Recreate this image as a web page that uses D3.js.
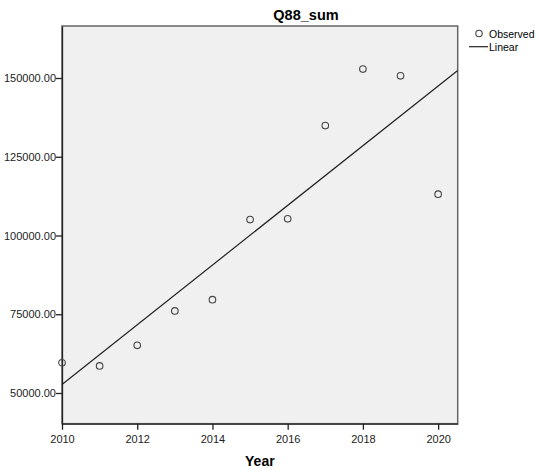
<!DOCTYPE html>
<html lang="en">
<head>
    <meta charset="UTF-8">
    <title>Q88_sum</title>
    <script src="https://d3js.org/d3.v7.min.js"></script>
    <style>
        body { margin: 0; background: #fff; }
        svg { font-family: "Liberation Sans", Arial, sans-serif; }
        .tick text { font-size: 11px; fill: #222; }
    </style>
</head>
<body>
    <svg width="539" height="471"></svg>
    <script>
        // Observed values per year
        const years = [2010, 2011, 2012, 2013, 2014, 2015, 2016, 2017, 2018, 2019, 2020];
        const q88Sum = [59600, 58600, 65150, 76050, 79640, 105060, 105280, 134900, 152840, 150700, 113130];
        const yTicks = [50000, 75000, 100000, 125000, 150000];
        const xTicks = [2010, 2012, 2014, 2016, 2018, 2020];

        const margin = { top: 26, left: 62 };
        const width = 395.7;
        const height = 397.7;

        const svg = d3.select('svg');
        const g = svg.append('g')
            .attr('transform', `translate(${margin.left},${margin.top})`);

        const x = d3.scaleLinear().domain([2010, 2020.52]).range([0, width]);
        const y = d3.scaleLinear().domain([40253, 166510]).range([height, 0]);

        // plot background + frame
        g.append('rect')
            .attr('width', width)
            .attr('height', height)
            .attr('fill', '#f0f0f0')
            .attr('stroke', '#666')
            .attr('stroke-width', 1.5);

        // axes
        const xAxis = g.append('g')
            .attr('transform', `translate(0,${height})`)
            .call(d3.axisBottom(x).tickValues(xTicks).tickFormat(d3.format('d')).tickSize(6).tickSizeOuter(0));
        const yAxis = g.append('g')
            .call(d3.axisLeft(y).tickValues(yTicks).tickFormat(d3.format('.2f')).tickSize(6).tickSizeOuter(0));

        [xAxis, yAxis].forEach(a => {
            a.select('.domain').attr('stroke', '#222').attr('stroke-width', 1.3);
            a.selectAll('.tick line').attr('stroke', '#222').attr('stroke-width', 1.3);
        });
        xAxis.selectAll('.tick text').attr('dy', '0.9em');
        yAxis.selectAll('.tick text').attr('x', -6);

        // linear fit (least squares on the observed values)
        const mx = d3.mean(years);
        const my = d3.mean(q88Sum);
        const slope = d3.sum(years, (d, i) => (d - mx) * (q88Sum[i] - my)) / d3.sum(years, d => (d - mx) ** 2);
        const intercept = my - slope * mx;
        const fitX = x.domain();

        g.append('line')
            .attr('x1', x(fitX[0]))
            .attr('y1', y(intercept + slope * fitX[0]))
            .attr('x2', x(fitX[1]))
            .attr('y2', y(intercept + slope * fitX[1]))
            .attr('stroke', '#222')
            .attr('stroke-width', 1.2);

        // observed points
        g.selectAll('.pt')
            .data(years)
            .join('circle')
            .attr('class', 'pt')
            .attr('cx', d => x(d))
            .attr('cy', (d, i) => y(q88Sum[i]))
            .attr('r', 3.3)
            .attr('fill', 'none')
            .attr('stroke', '#444')
            .attr('stroke-width', 1.1);

        // title and axis label
        svg.append('text')
            .attr('x', 306)
            .attr('y', 20)
            .attr('text-anchor', 'middle')
            .style('font-size', '14.5px')
            .style('font-weight', 'bold')
            .text('Q88_sum');

        svg.append('text')
            .attr('x', margin.left + width / 2)
            .attr('y', 466)
            .attr('text-anchor', 'middle')
            .style('font-size', '14px')
            .style('font-weight', 'bold')
            .text('Year');

        // legend
        const legend = svg.append('g').attr('transform', 'translate(469,0)');
        legend.append('circle')
            .attr('cx', 10).attr('cy', 33.5).attr('r', 3.2)
            .attr('fill', 'none').attr('stroke', '#444').attr('stroke-width', 1.1);
        legend.append('text')
            .attr('x', 20).attr('y', 37.5)
            .style('font-size', '10.5px')
            .text('Observed');
        legend.append('line')
            .attr('x1', 0).attr('x2', 19).attr('y1', 46.7).attr('y2', 46.7)
            .attr('stroke', '#222').attr('stroke-width', 1.2);
        legend.append('text')
            .attr('x', 20).attr('y', 50.5)
            .style('font-size', '10.5px')
            .text('Linear');
    </script>
</body>
</html>
